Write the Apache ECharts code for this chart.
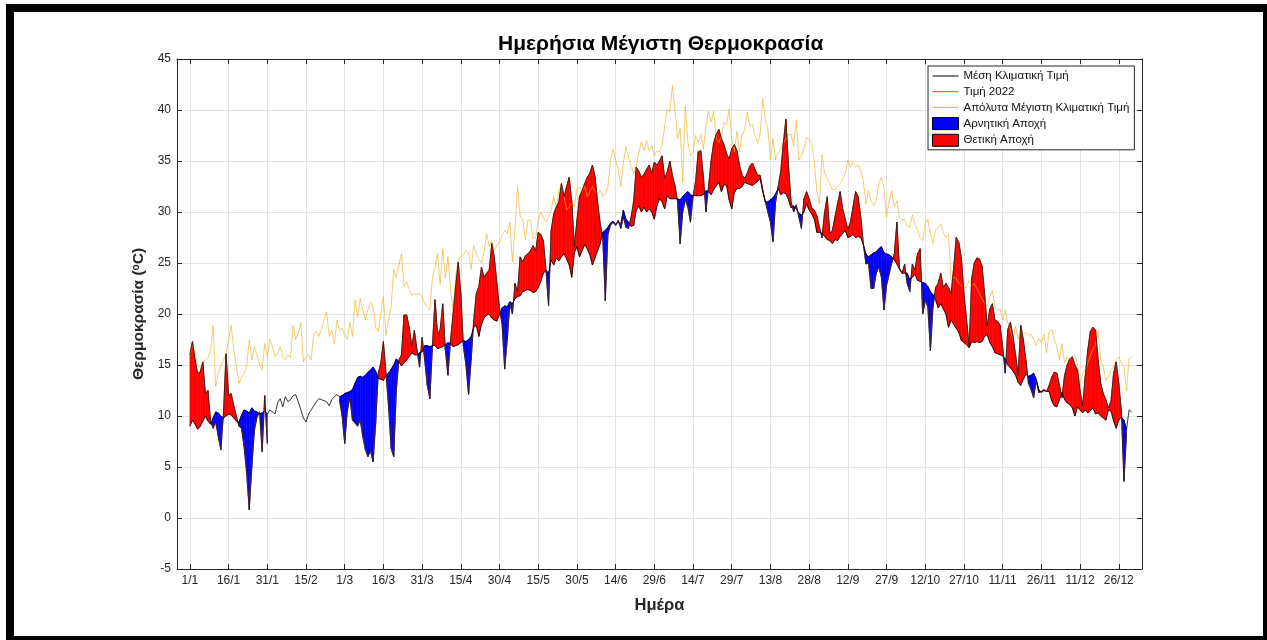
<!DOCTYPE html>
<html>
<head>
<meta charset="utf-8">
<title>Ημερήσια Μέγιστη Θερμοκρασία</title>
<script src="https://cdn.jsdelivr.net/npm/echarts@6/dist/echarts.min.js"></script>
<style>
  html, body { margin: 0; padding: 0; background: #fff; }
  #chart { position: absolute; left: 0; top: 0; width: 1267px; height: 640px; }
  #frame {
    position: absolute; left: 6px; top: 4px; width: 1261px; height: 636px;
    box-sizing: border-box; border: solid #000; border-width: 8px 4px 4px 8px;
    pointer-events: none;
  }
</style>
</head>
<body>
<div id="chart"></div>
<div id="frame"></div>
<script>
// day index 0..365 (1/1 .. 31/12, leap-year calendar as in the original axis)

// mean climatic daily maximum (black line)
const meanClim = [
  // Jan
  9.0, 9.6, 9.2, 8.7, 9.0, 9.5, 10.0, 9.5, 9.2, 9.8, 10.4, 10.3, 10.0, 9.8, 10.0, 10.2, 10.1, 9.8, 9.5, 9.4, 10.1, 10.6, 10.5, 10.3, 10.8, 10.5, 10.4, 10.2, 10.3, 10.5, 10.2,
  // Feb
  10.6, 10.4, 10.2, 11.3, 11.7, 10.9, 11.9, 11.4, 11.6, 12.0, 12.1, 11.4, 10.6, 9.8, 9.4, 10.2, 10.6, 11.0, 11.4, 11.7, 11.6, 11.5, 11.4, 11.0, 11.6, 11.9, 12.1, 11.9, 12.0,
  // Mar
  12.2, 12.3, 12.4, 12.6, 13.2, 13.8, 13.9, 13.8, 14.0, 14.3, 14.5, 14.8, 14.4, 13.7, 13.6, 13.5, 14.0, 14.2, 14.6, 15.0, 15.6, 15.3, 14.9, 15.2, 15.5, 15.8, 16.2, 16.0, 16.0, 16.2, 16.3,
  // Apr
  16.9, 16.9, 16.8, 16.9, 16.9, 16.6, 16.7, 16.8, 17.0, 17.2, 17.1, 16.8, 16.9, 17.0, 17.2, 17.4, 17.3, 17.5, 17.8, 18.7, 18.9, 17.8, 19.0, 19.6, 19.9, 20.0, 19.6, 19.4, 19.3, 20.0,
  // May
  20.6, 20.8, 20.7, 21.2, 21.0, 21.5, 21.7, 21.8, 22.2, 22.3, 22.4, 22.3, 22.1, 22.2, 22.6, 23.2, 24.0, 24.3, 24.0, 25.3, 24.8, 25.5, 25.2, 25.6, 25.9, 25.4, 24.8, 23.6, 26.0, 26.6, 25.6,
  // Jun
  26.2, 26.8, 26.4, 25.8, 24.8, 25.5, 26.2, 26.9, 28.0, 28.2, 28.5, 28.9, 29.1, 28.8, 29.0, 28.8, 30.2, 29.3, 29.0, 28.6, 28.7, 30.2, 30.6, 30.0, 30.5, 30.0, 30.3, 30.0, 29.3, 30.6,
  // Jul
  31.3, 31.0, 30.3, 31.6, 31.3, 31.3, 31.3, 31.3, 31.2, 31.5, 31.8, 32.0, 31.7, 31.6, 31.6, 31.6, 31.6, 31.7, 32.1, 32.0, 31.7, 32.2, 32.6, 32.9, 32.0, 32.7, 32.6, 31.2, 30.3, 31.9, 32.3,
  // Aug
  32.3, 32.5, 32.9, 32.8, 32.7, 32.6, 32.8, 33.0, 33.3, 32.0, 31.0, 31.0, 31.2, 31.4, 31.8, 32.3, 31.7, 31.9, 31.8, 31.2, 30.4, 30.6, 30.3, 29.9, 29.7, 30.0, 30.8, 30.2, 29.8, 29.3, 28.0,
  // Sep
  28.0, 27.9, 27.6, 27.3, 27.2, 26.9, 27.3, 27.2, 27.6, 27.9, 28.2, 27.5, 27.6, 27.8, 27.5, 27.6, 27.5, 26.8, 25.9, 25.6, 25.8, 26.0, 26.1, 26.4, 26.6, 26.0, 25.9, 25.8, 25.6, 25.3,
  // Oct
  24.9, 24.4, 24.0, 24.0, 24.0, 23.4, 23.6, 23.9, 23.3, 23.2, 23.1, 23.0, 22.7, 22.2, 21.9, 21.4, 20.6, 21.0, 20.5, 20.0, 18.7, 19.4, 19.0, 18.6, 18.2, 17.4, 17.2, 17.0, 16.7, 17.3, 17.2,
  // Nov
  17.3, 17.2, 17.3, 17.8, 18.0, 17.2, 16.8, 16.2, 16.1, 16.0, 15.9, 15.6, 15.0, 14.7, 14.4, 14.0, 13.3, 13.0, 13.6, 14.1, 13.9, 14.0, 14.2, 13.6, 12.6, 12.3, 12.5, 12.4, 12.4, 11.5,
  // Dec
  11.0, 10.9, 11.6, 12.3, 11.6, 11.3, 11.1, 10.8, 10.0, 10.9, 10.6, 10.3, 10.6, 10.3, 10.5, 10.8, 10.2, 10.3, 10.0, 9.8, 9.6, 10.6, 10.5, 9.5, 8.8, 9.6, 9.9, 9.6, 8.7, 10.6, 10.4
];

// 2022 daily maximum (null = no measurement)
const temp2022 = [
  // Jan
  16.0, 17.3, 15.5, 14.2, 14.3, 15.3, 12.2, 12.5, 9.5, 8.8, 9.4, 8.0, 6.7, 10.2, 16.1, 12.0, 12.2, 11.0, 10.0, 9.0, 8.8, 7.0, 4.4, 0.8, 5.0, 8.6, 9.9, 10.4, 6.5, 12.0, 7.3,
  // Feb
  null, null, null, null, null, null, null, null, null, null, null, null, null, null, null, null, null, null, null, null, null, null, null, null, null, null, null, 11.5, 10.0,
  // Mar
  7.3, 10.5, 11.8, 9.6, 9.3, 9.0, 9.6, 8.0, 6.7, 6.0, 6.6, 5.5, 9.3, 14.2, 15.2, 17.3, 14.2, 10.9, 6.8, 6.0, 12.5, 15.5, 16.0, 19.9, 19.9, 18.7, 16.8, 18.4, 16.5, 14.8, 17.7,
  // Apr
  15.5, 13.0, 11.7, 16.9, 21.4, 18.0, 18.5, 21.0, 16.5, 14.0, 17.4, 20.0, 22.7, 25.1, 22.0, 16.8, 15.0, 12.1, 15.5, 19.4, 22.0, 22.7, 24.6, 23.6, 24.0, 24.3, 26.9, 25.5, 23.0, 20.5,
  // May
  19.0, 14.6, 17.5, 21.0, 20.0, 23.0, 22.2, 25.6, 25.1, 25.7, 25.9, 26.2, 26.7, 26.2, 28.0, 27.8, 27.2, 24.3, 20.8, 28.2, 29.8, 30.5, 31.0, 32.8, 31.5, 32.5, 33.4, 31.0, 26.6, 29.2, 31.5,
  // Jun
  32.1, 32.8, 33.4, 33.8, 34.6, 33.5, 31.0, 28.9, 27.5, 21.3, 27.8, 28.7, 29.0, 28.7, 29.2, 28.4, 29.5, 28.5, 28.4, 29.5, 31.1, 34.4, 34.0, 33.4, 33.7, 34.2, 34.6, 33.8, 34.9, 34.6,
  // Jul
  35.0, 35.5, 33.3, 33.9, 35.0, 33.6, 32.6, 31.0, 26.9, 30.0, 31.2, 30.5, 29.0, 31.5, 33.0, 35.9, 36.0, 33.5, 30.0, 32.5, 35.0, 36.8, 37.6, 38.1, 37.2, 36.6, 35.7, 35.2, 36.2, 36.6, 36.0,
  // Aug
  34.6, 33.6, 33.3, 33.8, 34.5, 34.8, 34.2, 33.6, 33.6, 32.2, 31.0, 30.0, 29.0, 27.1, 31.0, 32.5, 34.0, 36.8, 39.1, 34.5, 31.0, 30.0, 30.7, 29.5, 28.4, 31.3, 32.0, 31.3, 30.4, 30.2, 29.6,
  // Sep
  28.5, 27.5, 30.0, 31.5, 27.9, 28.2, 29.5, 30.8, 32.0, 30.3, 29.3, 28.3, 29.0, 30.5, 32.0, 31.5, 29.5, 26.9, 24.9, 25.0, 22.5, 22.5, 24.0, 24.6, 23.6, 20.4, 22.8, 23.9, 25.0, 25.9,
  // Oct
  29.0, 24.5, 24.0, 24.9, 23.0, 22.2, 24.9, 24.3, 25.9, 26.4, 20.0, 21.3, 20.7, 16.4, 20.7, 22.6, 23.0, 24.0, 22.6, 23.0, 22.6, 22.0, 24.5, 27.5, 27.0, 25.5, 22.0, 19.5, 16.8, 23.5, 25.0,
  // Nov
  25.5, 25.4, 24.7, 22.0, 18.8, 20.5, 21.0, 19.4, 19.3, 18.9, 16.8, 14.2, 18.5, 19.2, 17.8, 16.0, 14.0, 18.9, 17.5, 15.5, 13.2, 12.6, 11.8, 13.5, 12.3, 12.4, 12.6, 12.4, 13.0, 13.8,
  // Dec
  14.3, 14.2, 13.0, 11.8, 14.0, 15.0, 15.6, 15.8, 15.0, 14.5, 12.5, 11.0, 13.9, 16.5, 18.3, 18.7, 18.4, 15.5, 13.2, 12.2, 11.6, 10.8, 11.5, 14.2, 15.3, 13.2, 10.5, 3.6, 8.3, null, null
];

// absolute climatic daily maximum (orange line)
const absMax = [
  // Jan
  15.8, 17.0, 16.2, 15.0, 14.8, 15.0, 15.5, 15.7, 16.5, 18.9, 12.9, 14.2, 14.9, 15.5, 16.0, 17.5, 18.9, 16.5, 14.9, 13.2, 13.8, 14.2, 14.8, 17.5, 15.5, 16.8, 16.0, 15.0, 14.5, 17.1, 15.8,
  // Feb
  17.5, 16.8, 15.8, 16.2, 16.8, 15.8, 15.5, 16.0, 15.7, 18.9, 17.5, 18.1, 19.1, 15.3, 15.8, 16.0, 15.5, 18.1, 18.3, 17.8, 18.5, 19.4, 20.2, 17.8, 18.4, 17.1, 19.4, 18.4, 18.6,
  // Mar
  18.0, 17.5, 19.2, 17.8, 21.4, 19.7, 21.5, 20.4, 19.4, 20.4, 21.1, 20.7, 18.7, 18.3, 20.1, 21.7, 17.9, 19.4, 20.7, 24.4, 23.6, 24.8, 25.9, 22.7, 23.2, 22.4, 21.8, 22.0, 21.9, 22.0, 21.7,
  // Apr
  21.0, 20.7, 20.4, 23.6, 24.6, 25.9, 22.9, 26.4, 23.5, 25.6, 22.5, 20.4, 23.6, 25.4, 25.6, 25.9, 26.2, 26.0, 24.4, 26.7, 25.9, 25.3, 25.0, 26.0, 27.9, 26.6, 27.2, 26.2, 26.8, 26.9,
  // May
  27.8, 28.2, 27.9, 29.0, 25.1, 28.5, 32.5, 29.6, 29.3, 27.3, 29.2, 29.2, 27.4, 27.5, 29.2, 30.0, 29.5, 29.0, 29.5, 30.2, 31.5, 30.5, 32.1, 32.8, 31.5, 30.2, 30.5, 31.0, 30.5, 32.3, 32.5,
  // Jun
  32.0, 32.5, 31.5, 32.0, 32.5, 32.0, 31.8, 32.1, 31.5, 31.8, 32.5, 35.1, 36.2, 35.1, 34.1, 32.5, 34.8, 36.4, 35.4, 34.4, 33.8, 34.5, 35.8, 36.9, 36.0, 37.0, 36.0, 36.5, 35.5, 36.0,
  // Jul
  35.9, 36.5, 38.4, 40.1, 39.8, 42.4, 40.0, 37.2, 38.2, 32.9, 40.4, 36.8, 35.5, 35.8, 37.5, 36.8, 37.6, 36.2, 38.4, 39.9, 38.8, 39.9, 37.2, 36.8, 37.5, 38.8, 38.5, 40.1, 37.2, 35.9, 37.9,
  // Aug
  35.9, 37.5, 38.1, 39.8, 38.4, 38.6, 37.5, 36.8, 37.6, 41.1, 39.1, 38.1, 35.1, 37.2, 35.1, 35.7, 36.2, 36.7, 37.2, 37.6, 37.6, 36.5, 39.0, 35.1, 35.5, 36.3, 37.3, 37.1, 36.8, 34.9, 32.0,
  // Sep
  30.8, 35.6, 33.8, 33.2, 32.8, 32.2, 32.2, 32.5, 32.8, 33.2, 33.8, 35.1, 34.4, 34.9, 34.4, 34.6, 34.1, 33.1, 30.8, 32.1, 31.1, 30.6, 31.1, 32.8, 33.4, 32.4, 29.5, 31.1, 32.1, 30.5,
  // Oct
  31.1, 29.5, 29.2, 29.3, 28.7, 28.5, 29.7, 28.8, 28.2, 27.5, 27.2, 28.8, 29.3, 27.8, 26.9, 28.2, 28.5, 28.8, 28.0, 27.5, 27.8, 23.3, 23.6, 23.5, 23.0, 22.8, 22.6, 22.6, 23.3, 22.8, 23.0,
  // Nov
  22.5, 22.0, 21.5, 21.0, 20.7, 21.7, 22.3, 20.7, 20.4, 20.5, 19.4, 20.4, 19.1, 18.5, 17.5, 18.8, 17.5, 18.2, 18.0, 18.2, 17.9, 18.0, 17.5, 16.9, 17.6, 17.2, 18.0, 16.2, 18.3, 18.5,
  // Dec
  17.5, 16.8, 15.5, 17.1, 15.2, 15.8, 15.5, 15.8, 16.0, 15.0, 13.2, 14.2, 14.5, 15.2, 16.0, 16.5, 17.0, 18.3, 15.5, 14.8, 13.5, 13.8, 14.5, 14.8, 15.5, 15.8, 15.2, 14.8, 12.5, 15.6, 15.8
];

// x ticks (day index) and their labels
const tickDays = [0, 15, 30, 45, 60, 75, 90, 105, 120, 135, 150, 165, 180, 195, 210, 225, 240, 255, 270, 285, 300, 315, 330, 345, 360];
const tickLabels = ['1/1', '16/1', '31/1', '15/2', '1/3', '16/3', '31/3', '15/4', '30/4', '15/5', '30/5', '14/6', '29/6',
  '14/7', '29/7', '13/8', '28/8', '12/9', '27/9', '12/10', '27/10', '11/11', '26/11', '11/12', '26/12'];

const FONT = 'Liberation Sans, Arial, Helvetica, sans-serif';
const AXIS_COLOR = '#262626';
const GRID_COLOR = '#e3e3e3';
const TITLE = 'Ημερήσια Μέγιστη Θερμοκρασία';
const TITLE_SIZE = 21;

const pairs = arr => arr.map((v, i) => [i, v]);

// one segment per pair of consecutive days that both have a 2022 value
const segments = [];
for (let i = 0; i < temp2022.length - 1; i++) {
  if (temp2022[i] == null || temp2022[i + 1] == null) continue;
  segments.push([i, temp2022[i], meanClim[i], temp2022[i + 1], meanClim[i + 1]]);
}

// fills the area between the 2022 curve and the mean, only where (val - mean) has the given sign
const renderFill = (sign, color) => (params, api) => {
  const i = api.value(0);
  const v0 = api.value(1), m0 = api.value(2), v1 = api.value(3), m1 = api.value(4);
  const d0 = (v0 - m0) * sign, d1 = (v1 - m1) * sign;
  let pts = null;
  if (d0 >= 0 && d1 >= 0 && (d0 > 0 || d1 > 0)) {
    pts = [[i, v0], [i + 1, v1], [i + 1, m1], [i, m0]];
  } else if (d0 > 0 && d1 < 0) {
    const t = d0 / (d0 - d1);
    pts = [[i, v0], [i + t, m0 + t * (m1 - m0)], [i, m0]];
  } else if (d0 < 0 && d1 > 0) {
    const t = d0 / (d0 - d1);
    pts = [[i + t, m0 + t * (m1 - m0)], [i + 1, v1], [i + 1, m1]];
  }
  if (!pts) return null;
  return {
    type: 'polygon',
    shape: { points: pts.map(p => api.coord(p)) },
    style: { fill: color, stroke: color, lineWidth: 0.6 }
  };
};

const lineSeries = (name, data, color, width, opacity) => ({
  name: name,
  type: 'line',
  data: pairs(data),
  showSymbol: false,
  symbol: 'none',
  silent: true,
  color: color,
  lineStyle: { color: color, width: width, opacity: opacity == null ? 1 : opacity }
});

const fillSeries = (name, sign, color) => ({
  name: name,
  type: 'custom',
  silent: true,
  clip: true,
  color: color,
  itemStyle: { color: color },
  data: segments,
  dimensions: ['day', 'v0', 'm0', 'v1', 'm1'],
  encode: { x: 0, y: [1, 2, 3, 4] },
  renderItem: renderFill(sign, color)
});

const lineIcon = 'path://M0,0H26V1H0Z';

// centre the title over the plot area
const measure = document.createElement('canvas').getContext('2d');
measure.font = 'bold ' + TITLE_SIZE + 'px Liberation Sans';
const titleWidth = measure.measureText(TITLE).width;

const chart = echarts.init(document.getElementById('chart'));

const option = {
  animation: false,
  backgroundColor: '#fff',
  textStyle: { fontFamily: FONT },
  title: {
    text: TITLE,
    left: Math.round(661 - titleWidth / 2),
    top: 34,
    padding: 0,
    textStyle: { fontSize: TITLE_SIZE, fontWeight: 'bold', color: '#000', fontFamily: FONT }
  },
  legend: {
    orient: 'vertical',
    left: 928,
    top: 66,
    padding: [4, 5, 3, 4],
    itemWidth: 26,
    itemHeight: 12,
    itemGap: 3.7,
    selectedMode: false,
    backgroundColor: '#fff',
    borderColor: AXIS_COLOR,
    borderWidth: 1,
    borderRadius: 0,
    textStyle: { fontSize: 11.5, color: '#111', fontFamily: FONT },
    data: [
      { name: 'Μέση Κλιματική Τιμή', icon: lineIcon },
      { name: 'Τιμή 2022', icon: lineIcon },
      { name: 'Απόλυτα Μέγιστη Κλιματική Τιμή', icon: lineIcon },
      { name: 'Αρνητική Αποχή', icon: 'rect', itemStyle: { borderColor: '#000', borderWidth: 1 } },
      { name: 'Θετική Αποχή', icon: 'rect', itemStyle: { borderColor: '#000', borderWidth: 1 } }
    ]
  },
  grid: { left: 177, right: 125, top: 59, bottom: 71, containLabel: false },
  xAxis: [{
    type: 'value',
    min: -5,
    max: 369,
    name: 'Ημέρα',
    nameLocation: 'middle',
    nameGap: 28,
    nameTextStyle: { fontSize: 16.5, fontWeight: 'bold', color: AXIS_COLOR, fontFamily: FONT },
    axisLine: { show: true, onZero: false, lineStyle: { color: AXIS_COLOR, width: 1 } },
    axisTick: { show: true, inside: true, length: 5, customValues: tickDays, lineStyle: { color: AXIS_COLOR } },
    axisLabel: {
      show: true, margin: 6, fontSize: 12, color: AXIS_COLOR, fontFamily: FONT,
      customValues: tickDays,
      formatter: v => tickLabels[tickDays.indexOf(v)] || ''
    },
    splitLine: { show: true, lineStyle: { color: GRID_COLOR, width: 1 } }
  }, {
    type: 'value',
    position: 'top',
    min: -5,
    max: 369,
    axisLine: { show: true, onZero: false, lineStyle: { color: AXIS_COLOR, width: 1 } },
    axisTick: { show: true, inside: true, length: 5, customValues: tickDays, lineStyle: { color: AXIS_COLOR } },
    axisLabel: { show: false, customValues: tickDays },
    splitLine: { show: false }
  }],
  yAxis: [{
    type: 'value',
    min: -5,
    max: 45,
    interval: 5,
    name: 'Θερμοκρασία ({sup|o}C)',
    nameLocation: 'middle',
    nameGap: 22,
    nameTextStyle: {
      fontSize: 15.5, fontWeight: 'bold', color: AXIS_COLOR, fontFamily: FONT,
      rich: { sup: { fontSize: 10, fontWeight: 'bold', color: AXIS_COLOR, fontFamily: FONT, verticalAlign: 'top' } }
    },
    axisLine: { show: true, onZero: false, lineStyle: { color: AXIS_COLOR, width: 1 } },
    axisTick: { show: true, inside: true, length: 5, lineStyle: { color: AXIS_COLOR } },
    axisLabel: { margin: 6, fontSize: 12, color: AXIS_COLOR, fontFamily: FONT },
    splitLine: { show: true, lineStyle: { color: GRID_COLOR, width: 1 } }
  }, {
    type: 'value',
    position: 'right',
    min: -5,
    max: 45,
    interval: 5,
    axisLine: { show: true, onZero: false, lineStyle: { color: AXIS_COLOR, width: 1 } },
    axisTick: { show: true, inside: true, length: 5, lineStyle: { color: AXIS_COLOR } },
    axisLabel: { show: false },
    splitLine: { show: false }
  }],
  series: [
    lineSeries('Απόλυτα Μέγιστη Κλιματική Τιμή', absMax, '#EDB120', 0.8, 0.8),
    lineSeries('Τιμή 2022', temp2022, '#D95319', 0.6),
    fillSeries('Θετική Αποχή', 1, '#ff0000'),
    fillSeries('Αρνητική Αποχή', -1, '#0000ff'),
    // black edges of the filled patches along the 2022 curve
    lineSeries('edge2022', temp2022, '#1a1a1a', 0.8),
    lineSeries('Μέση Κλιματική Τιμή', meanClim, '#000', 0.8)
  ]
};

chart.setOption(option);
</script>
</body>
</html>
